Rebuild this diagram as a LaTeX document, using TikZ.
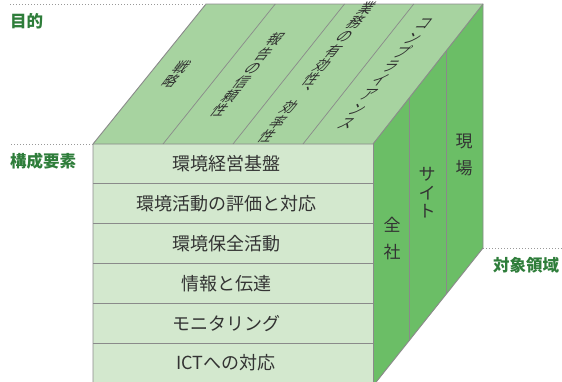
\documentclass[tikz,border=0pt]{standalone}
\usepackage{fontspec}
\usetikzlibrary{calc}
\newfontfamily\jp{Noto Sans CJK JP}
\definecolor{frontc}{HTML}{D3E8CE}
\definecolor{topc}{HTML}{A7D3A0}
\definecolor{sidec}{HTML}{6BBE66}
\definecolor{edgec}{HTML}{8A8A8A}
\definecolor{labc}{HTML}{2E7D3A}
\definecolor{txtc}{HTML}{333333}
\begin{document}
\begin{tikzpicture}[x=1pt,y=-1pt,
  edge/.style={draw=edgec, line width=0.9pt},
  divline/.style={draw=edgec, line width=0.7pt},
  dotline/.style={draw=gray!80, line width=1pt, dash pattern=on 1pt off 2pt},
  rowtext/.style={font=\jp\fontsize{18}{20}\selectfont, text=txtc, inner sep=0pt},
  toptext/.style={font=\jp\fontsize{14}{14.2}\selectfont, text=txtc!90!black, inner sep=0pt, align=center, transform shape},
  sidetext/.style={text=txtc, inner sep=0pt, align=center},
  sectlabel/.style={font=\jp\bfseries\fontsize{16.5}{18}\selectfont, text=labc, inner sep=0pt}
]
\useasboundingbox (0,0) rectangle (562,381);
\coordinate (FTL) at (93,144);
\coordinate (FTR) at (373,144);
\coordinate (FBR) at (373,386);
\coordinate (FBL) at (93,386);
\coordinate (BTL) at (206,4);
\coordinate (BTR) at (483,4);
\coordinate (BBR) at (483,248);
\begin{scope}
\clip (0,0) rectangle (562,381);
\fill[frontc] (FTL) -- (FTR) -- (FBR) -- (FBL) -- cycle;
\fill[topc] (FTL) -- (BTL) -- (BTR) -- (FTR) -- cycle;
\fill[sidec] (FTR) -- (BTR) -- (BBR) -- (FBR) -- cycle;
\foreach \k in {1,...,5} {
  \draw[divline] ($(FTL)+(0,39.8*\k)$) -- ($(FTR)+(0,39.8*\k)$);
}
\foreach \t in {0.25,0.5,0.75} {
  \draw[divline] ($(FTL)!\t!(FTR)$) -- ($(BTL)!\t!(BTR)$);
}
\foreach \t in {0.3333,0.6667} {
  \draw[divline] ($(FTR)!\t!(BTR)$) -- ($(FBR)!\t!(BBR)$);
}
\draw[edge] (FBL) -- (FTL) -- (BTL) -- (BTR) -- (BBR) -- (FBR);
\draw[edge] (FTL) -- (FTR) -- (BTR);
\draw[edge] (FTR) -- (FBR);
\end{scope}
% dotted guide lines and labels
\coordinate (g1) at (10,4);
\coordinate (g2) at (11,144);
\coordinate (g3) at (562,248);
\draw[dotline] (g1) -- (BTL);
\draw[dotline] (g2) -- (FTL);
\draw[dotline] (BBR) -- (g3);
\node[sectlabel, anchor=west] (lab1) at (10,21) {目的};
\node[sectlabel, anchor=west] (lab2) at (10,161) {構成要素};
\node[sectlabel, anchor=west] (lab3) at (493,265) {対象領域};
% front rows
\node[rowtext] (r1) at (226,163.9) {環境経営基盤};
\node[rowtext] (r2) at (226,203.7) {環境活動の評価と対応};
\node[rowtext] (r3) at (226,243.5) {環境保全活動};
\node[rowtext] (r4) at (226,283.3) {情報と伝達};
\node[rowtext] (r5) at (226,323.1) {モニタリング};
\node[rowtext] (r6) at (226,362.9) {ICTへの対応};
% top face texts
\begin{scope}[shift={(176,74)}, xslant=0.78]
\node[toptext] (t1) at (0,0) {戦\\略};
\end{scope}
\begin{scope}[shift={(247.5,75)}, xslant=0.78]
\node[toptext] (t2) at (0,0) {報\\告\\の\\信\\頼\\性};
\end{scope}
\begin{scope}[shift={(317,72)}, xslant=0.78]
\node[toptext] (t3) at (0,0) {業\\務\\の\\有\\効\\性\\︑\\効\\率\\性};
\end{scope}
\begin{scope}[shift={(385,74)}, xslant=0.78]
\node[toptext] (t4) at (0,0) {コ\\ン\\プ\\ラ\\イ\\ア\\ン\\ス};
\end{scope}
% side face texts
\node[sidetext, font=\jp\fontsize{17}{27}\selectfont] (s1) at (392,238.5) {全\\社};
\node[sidetext, font=\jp\fontsize{17}{18.5}\selectfont] (s2) at (427,193) {サ\\イ\\ト};
\node[sidetext, font=\jp\fontsize{17}{26.7}\selectfont] (s3) at (464,155) {現\\場};
\end{tikzpicture}
\end{document}
